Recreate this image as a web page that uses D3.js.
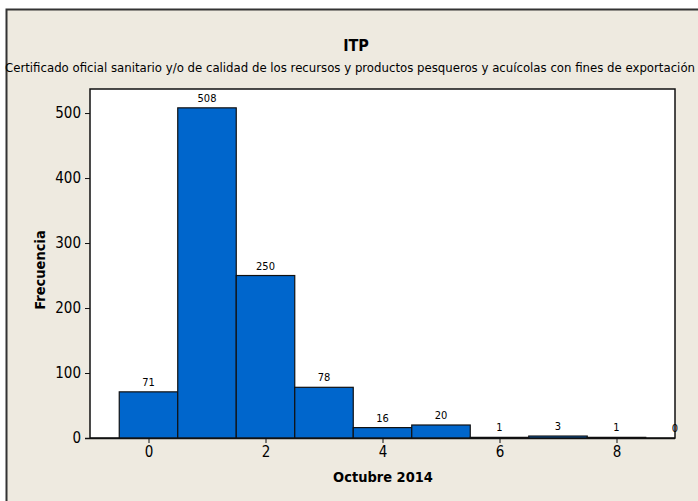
<!DOCTYPE html>
<html>
<head>
<meta charset="utf-8">
<script src="https://cdn.jsdelivr.net/npm/d3@7"></script>
<style>
  html, body { margin: 0; background: #fff; overflow: hidden; }
  svg { display: block; }
  text { font-family: "DejaVu Sans Condensed", "DejaVu Sans", sans-serif; fill: #000; }
</style>
</head>
<body>
<div id="chart"></div>
<script>
// histogram bins (Octubre 2014) and their counts
const bins = [0, 1, 2, 3, 4, 5, 6, 7, 8, 9];
const counts = [71, 508, 250, 78, 16, 20, 1, 3, 1, 0];
const xTicks = [0, 2, 4, 6, 8];
const yTicks = [0, 100, 200, 300, 400, 500];

const width = 698;
const height = 501;
const plot = { left: 90, top: 89, right: 675, bottom: 438 };

const svg = d3.select("#chart")
  .append("svg")
  .attr("width", width)
  .attr("height", height);

// beige panel with dark frame (only top and left edges fall inside the view)
svg.append("rect")
  .attr("x", 6.5).attr("y", 9.5)
  .attr("width", width + 20).attr("height", height + 20)
  .attr("fill", "#eeeae0")
  .attr("stroke", "#333")
  .attr("stroke-width", 2);

const x = d3.scaleLinear().domain([-1, 9]).range([plot.left, plot.right]);
const y = d3.scaleLinear().domain([0, 537]).range([plot.bottom, plot.top]);

// plot area
svg.append("rect")
  .attr("x", plot.left).attr("y", plot.top)
  .attr("width", plot.right - plot.left)
  .attr("height", plot.bottom - plot.top)
  .attr("fill", "#fff")
  .attr("stroke", "#111")
  .attr("stroke-width", 1.5);

svg.append("clipPath").attr("id", "clip")
  .append("rect")
  .attr("x", plot.left).attr("y", plot.top - 1)
  .attr("width", plot.right - plot.left)
  .attr("height", plot.bottom - plot.top + 2);

const bars = svg.append("g").attr("clip-path", "url(#clip)");
bars.selectAll("rect")
  .data(bins.filter((d, i) => counts[i] > 0))
  .join("rect")
  .attr("x", (d) => x(d - 0.5))
  .attr("width", (d) => x(d + 0.5) - x(d - 0.5))
  .attr("y", (d) => y(counts[d]))
  .attr("height", (d) => y(0) - y(counts[d]))
  .attr("fill", "#0066cc")
  .attr("stroke", "#111")
  .attr("stroke-width", 1.2);

// axes
const xAxis = svg.append("g")
  .attr("transform", `translate(0,${plot.bottom})`)
  .call(d3.axisBottom(x).tickValues(xTicks).tickSize(5).tickSizeOuter(0).tickPadding(3));
xAxis.select(".domain")
  .attr("d", `M${plot.left - 5},0.5H${plot.right}`)
  .attr("stroke", "#111").attr("stroke-width", 1.5);

const yAxis = svg.append("g")
  .attr("transform", `translate(${plot.left},0)`)
  .call(d3.axisLeft(y).tickValues(yTicks).tickSize(5).tickSizeOuter(0).tickPadding(4));
yAxis.select(".domain").remove();

svg.selectAll(".tick text")
  .attr("font-size", 15)
  .attr("font-family", "'DejaVu Sans Condensed', 'DejaVu Sans', sans-serif")
  .attr("fill", "#000");
svg.selectAll(".tick line").attr("stroke", "#111");

// value labels on top of everything
svg.append("g")
  .selectAll("text")
  .data(bins)
  .join("text")
  .attr("x", (d) => x(d))
  .attr("y", (d) => y(counts[d]) - 6)
  .attr("text-anchor", "middle")
  .attr("font-size", 11)
  .attr("fill", "#000")
  .text((d) => counts[d]);

// titles
svg.append("text")
  .attr("x", 356).attr("y", 51)
  .attr("text-anchor", "middle")
  .attr("font-size", 16).attr("font-weight", "bold")
  .text("ITP");

svg.append("text")
  .attr("x", 350).attr("y", 72)
  .attr("text-anchor", "middle")
  .attr("font-size", 12.5)
  .attr("textLength", 690)
  .attr("lengthAdjust", "spacingAndGlyphs")
  .text("Certificado oficial sanitario y/o de calidad de los recursos y productos pesqueros y acuícolas con fines de exportación");

svg.append("text")
  .attr("x", 383).attr("y", 482)
  .attr("text-anchor", "middle")
  .attr("font-size", 14.5).attr("font-weight", "bold")
  .text("Octubre 2014");

svg.append("text")
  .attr("transform", "translate(45,270) rotate(-90)")
  .attr("text-anchor", "middle")
  .attr("font-size", 14.5).attr("font-weight", "bold")
  .text("Frecuencia");
</script>
</body>
</html>
